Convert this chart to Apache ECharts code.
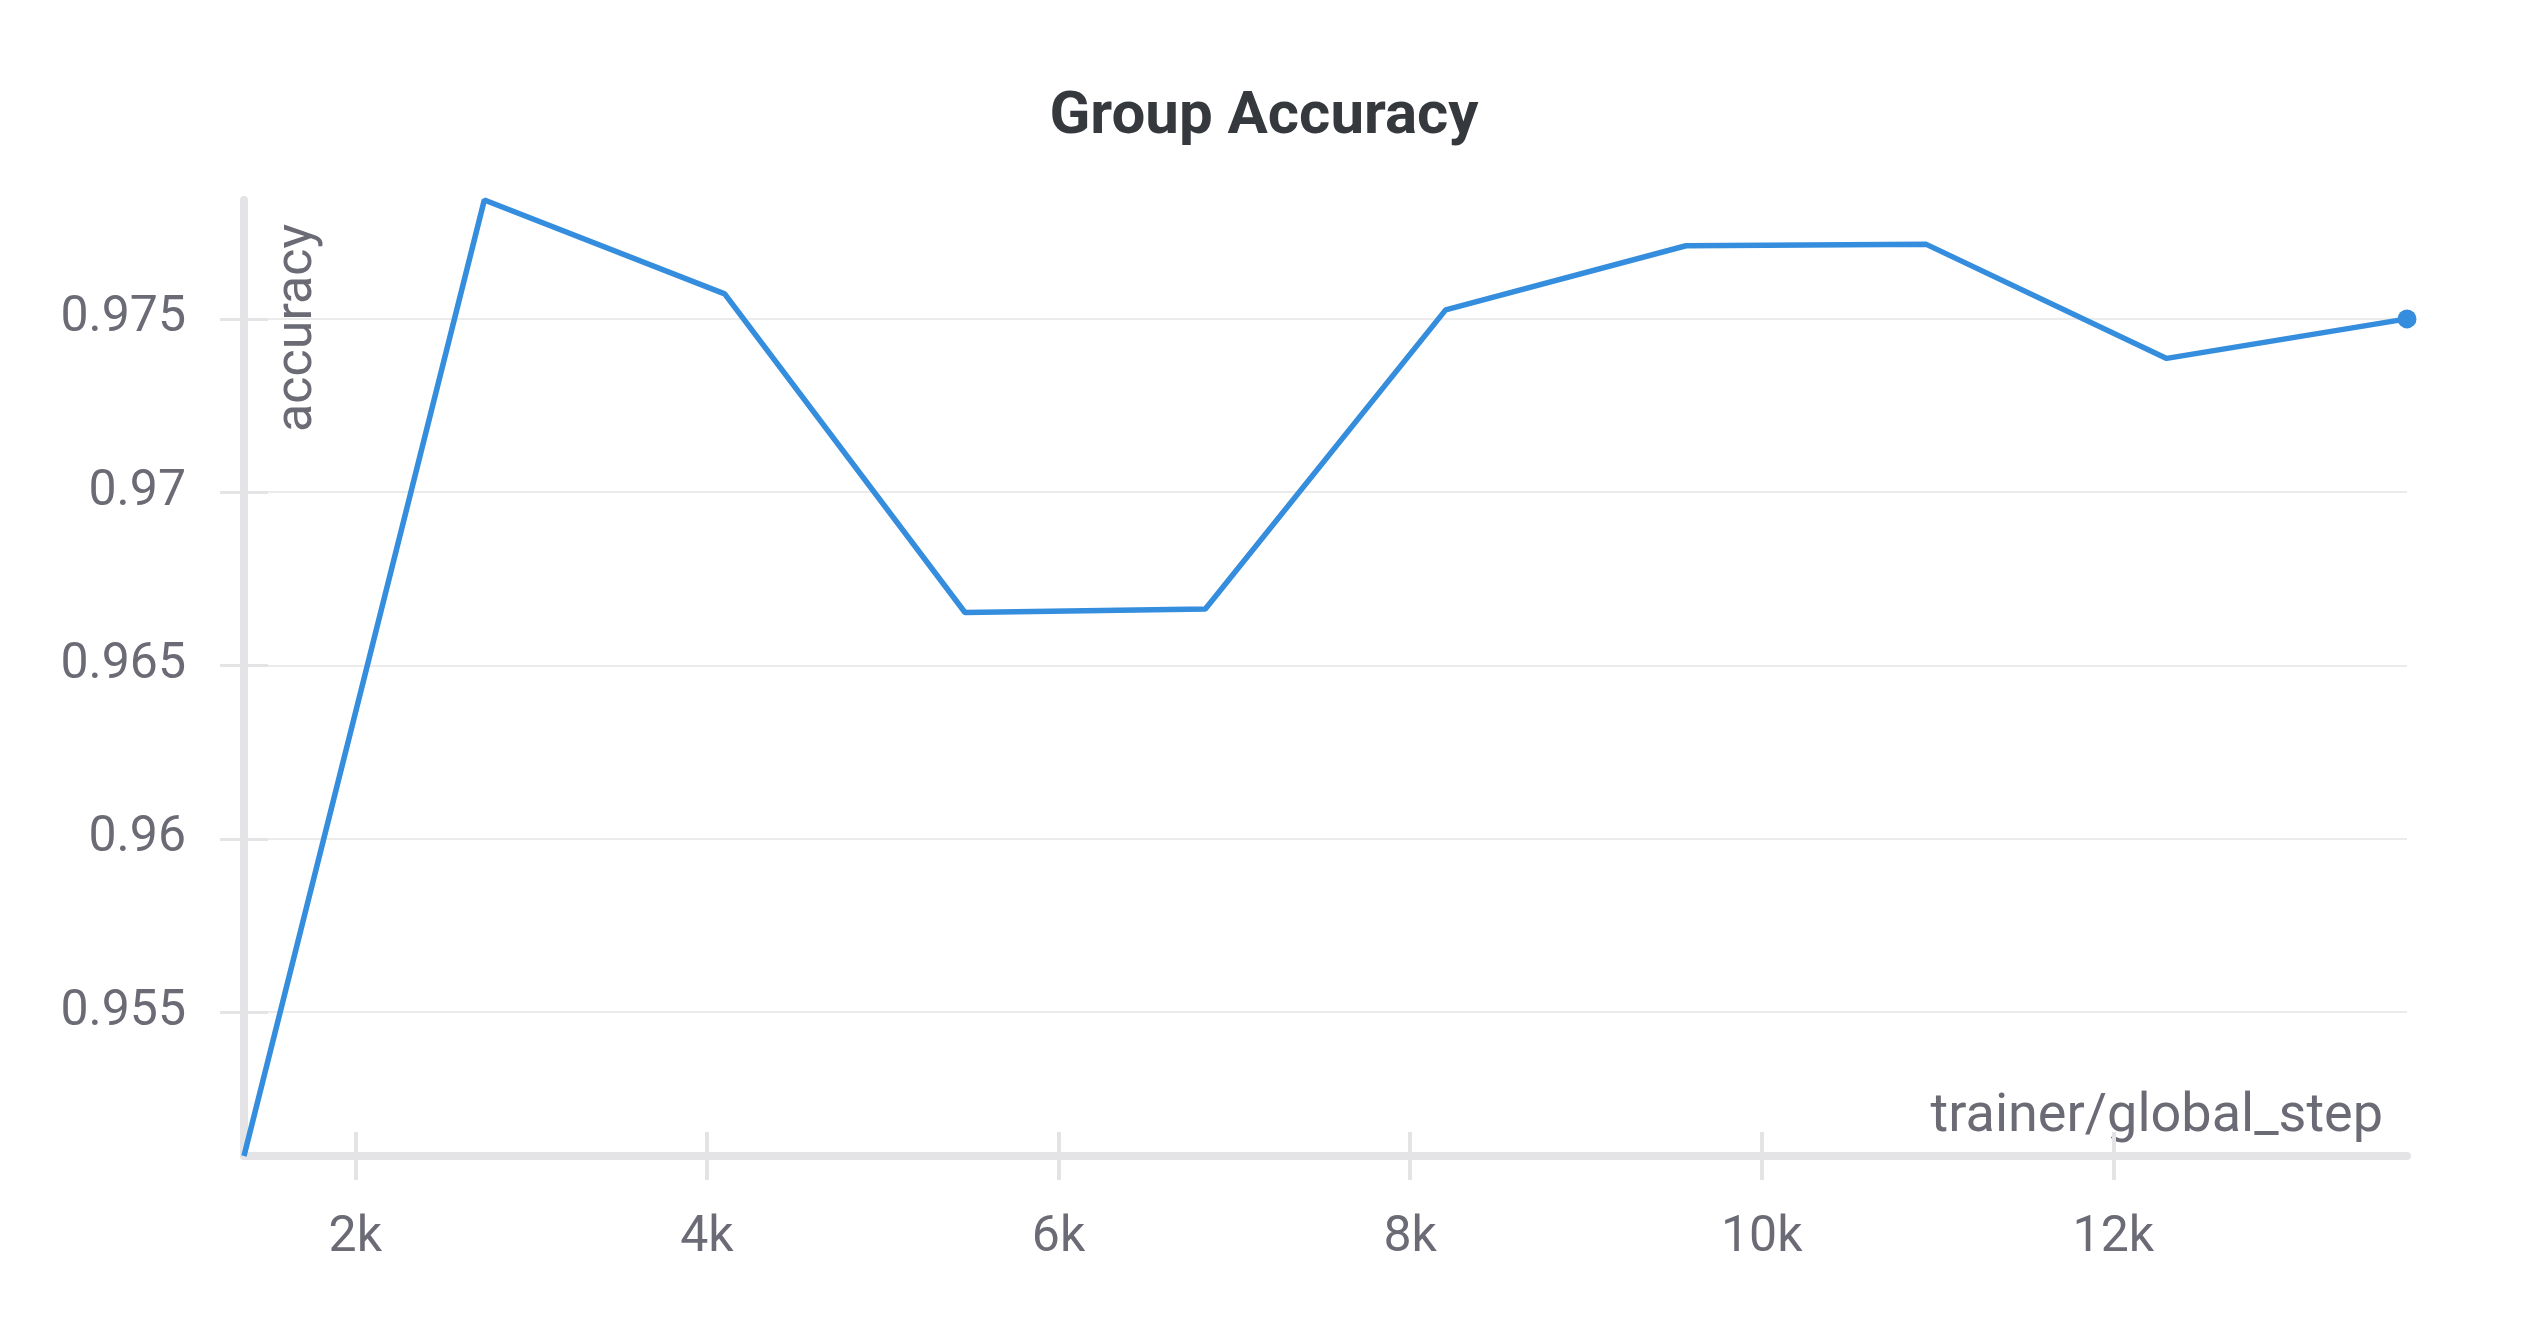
<!DOCTYPE html>
<html>
<head>
<meta charset="utf-8">
<script src="https://cdn.jsdelivr.net/npm/echarts@6/dist/echarts.min.js"></script>
<style>
  html, body { margin: 0; padding: 0; background: #ffffff; }
  #chart { width: 2528px; height: 1328px; }
</style>
</head>
<body>
<div id="chart"></div>
<script>
// ---- data ----
var titleText = 'Group Accuracy';
var xAxisName = 'trainer/global_step';
var yAxisName = 'accuracy';
var steps = [1367, 2734, 4101, 5468, 6835, 8202, 9569, 10936, 12303, 13670];
var accuracy = [0.95085, 0.97843, 0.97572, 0.96653, 0.96663, 0.97526, 0.97711, 0.97715, 0.97386, 0.97500];
var xTicks = [2000, 4000, 6000, 8000, 10000, 12000];
var yTicks = [0.955, 0.96, 0.965, 0.97, 0.975];

var xMin = Math.min.apply(null, steps), xMax = Math.max.apply(null, steps);
var yMin = Math.min.apply(null, accuracy), yMax = Math.max.apply(null, accuracy);

var seriesData = steps.map(function (s, i) { return [s, accuracy[i]]; });

var labelColor = '#6b6b76';
var axisColor = '#e4e4e7';
var gridColor = '#ebebeb';
var font = 'Roboto';

var chart = echarts.init(document.getElementById('chart'), null, { renderer: 'canvas' });

function xFmt(v) { return (v / 1000) + 'k'; }

chart.setOption({
  animation: false,
  backgroundColor: '#ffffff',
  title: {
    text: titleText,
    left: 'center',
    top: 83,
    textStyle: { fontFamily: font, fontSize: 60, fontWeight: 'bold', color: '#35383c' }
  },
  grid: { left: 244, right: 121, top: 200, bottom: 172, containLabel: false },
  xAxis: [{
    type: 'value', min: xMin, max: xMax, position: 'bottom',
    axisLine: { show: true, onZero: false, lineStyle: { color: axisColor, width: 8 } },
    axisTick: { show: true, inside: false, length: 24, customValues: xTicks, lineStyle: { color: axisColor, width: 4 } },
    axisLabel: { customValues: xTicks, formatter: xFmt, margin: 57, color: labelColor, fontFamily: font, fontSize: 50 },
    splitLine: { show: false }
  }, {
    type: 'value', min: xMin, max: xMax, position: 'bottom', gridIndex: 0,
    axisLine: { show: false },
    axisTick: { show: true, inside: true, length: 24, customValues: xTicks, lineStyle: { color: axisColor, width: 4 } },
    axisLabel: { show: false },
    splitLine: { show: false }
  }],
  yAxis: [{
    type: 'value', min: yMin, max: yMax, position: 'left',
    axisLine: { show: true, onZero: false, lineStyle: { color: axisColor, width: 8 } },
    axisTick: { show: true, inside: false, length: 24, customValues: yTicks, lineStyle: { color: axisColor, width: 3 } },
    axisLabel: { customValues: yTicks, margin: 58, color: labelColor, fontFamily: font, fontSize: 50 },
    splitLine: { show: true, lineStyle: { color: gridColor, width: 2 } }
  }, {
    type: 'value', min: yMin, max: yMax, position: 'left', gridIndex: 0,
    axisLine: { show: false },
    axisTick: { show: true, inside: true, length: 24, customValues: yTicks, lineStyle: { color: axisColor, width: 3 } },
    axisLabel: { show: false },
    splitLine: { show: false }
  }],
  graphic: [{
    type: 'text', x: 2383, y: 1117,
    style: { text: xAxisName, fill: labelColor, font: '54px Roboto', align: 'right', verticalAlign: 'middle' }
  }, {
    type: 'text', x: 298, y: 432, rotation: Math.PI / 2,
    style: { text: yAxisName, fill: labelColor, font: '52px Roboto', align: 'left', verticalAlign: 'middle' }
  }],
  series: [{
    type: 'line',
    xAxisIndex: 0, yAxisIndex: 0,
    data: seriesData,
    showSymbol: true,
    symbol: 'circle',
    symbolSize: function (v, p) { return p.dataIndex === seriesData.length - 1 ? 19 : 0; },
    lineStyle: { color: '#358ddd', width: 5.5 },
    itemStyle: { color: '#358ddd' },
    clip: false,
    z: 1
  }]
});
</script>
</body>
</html>
